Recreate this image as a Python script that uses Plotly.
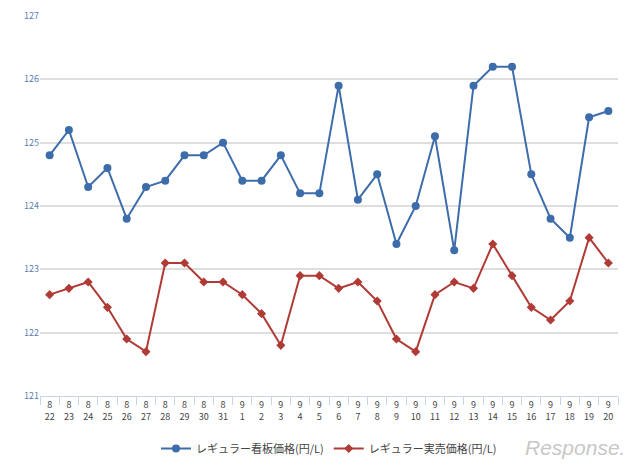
import plotly.graph_objects as go

dates = ["8/22", "8/23", "8/24", "8/25", "8/26", "8/27", "8/28", "8/29", "8/30", "8/31",
         "9/1", "9/2", "9/3", "9/4", "9/5", "9/6", "9/7", "9/8", "9/9", "9/10",
         "9/11", "9/12", "9/13", "9/14", "9/15", "9/16", "9/17", "9/18", "9/19", "9/20"]
kanban = [124.8, 125.2, 124.3, 124.6, 123.8, 124.3, 124.4, 124.8, 124.8, 125.0,
          124.4, 124.4, 124.8, 124.2, 124.2, 125.9, 124.1, 124.5, 123.4, 124.0,
          125.1, 123.3, 125.9, 126.2, 126.2, 124.5, 123.8, 123.5, 125.4, 125.5]
jitsubai = [122.6, 122.7, 122.8, 122.4, 121.9, 121.7, 123.1, 123.1, 122.8, 122.8,
            122.6, 122.3, 121.8, 122.9, 122.9, 122.7, 122.8, 122.5, 121.9, 121.7,
            122.6, 122.8, 122.7, 123.4, 122.9, 122.4, 122.2, 122.5, 123.5, 123.1]

labels = [d.replace("/", "<br>") for d in dates]

fig = go.Figure()
fig.add_trace(go.Scatter(
    x=labels, y=kanban, mode="lines+markers", name="レギュラー看板価格(円/L)",
    line=dict(color="#3d6cab", width=2), marker=dict(size=8, color="#3d6cab"),
))
fig.add_trace(go.Scatter(
    x=labels, y=jitsubai, mode="lines+markers", name="レギュラー実売価格(円/L)",
    line=dict(color="#b03a35", width=2),
    marker=dict(size=7, color="#b03a35", symbol="diamond"),
))

fig.add_annotation(
    text="<i>Response.</i>", xref="paper", yref="paper", x=1.015, y=-0.1,
    showarrow=False, font=dict(size=21, color="#c8c8c8", family="Liberation Sans"),
    xanchor="right", yanchor="top",
)

fig.update_layout(
    width=640, height=472,
    margin=dict(l=32, r=30, t=8, b=84, autoexpand=False),
    plot_bgcolor="white", paper_bgcolor="white",
    font=dict(family="Noto Sans CJK JP", size=10, color="#444"),
    showlegend=True,
    legend=dict(orientation="h", x=0.5, xanchor="center", y=-0.1, yanchor="top",
                font=dict(size=11)),
)
fig.update_xaxes(showgrid=False, showline=True, linecolor="#c5d5e5",
                 range=[-0.5, 29.5], tickson="boundaries", automargin=False,
                 ticks="outside", ticklen=8, tickcolor="#c5d5e5",
                 tickfont=dict(size=9, color="#444"))
fig.update_yaxes(range=[121, 127], dtick=1, gridcolor="#dedede", gridwidth=1.5,
                 zeroline=False, automargin=False,
                 tickfont=dict(size=9, color="#5b7fb5"))

fig.write_html("out.html")
